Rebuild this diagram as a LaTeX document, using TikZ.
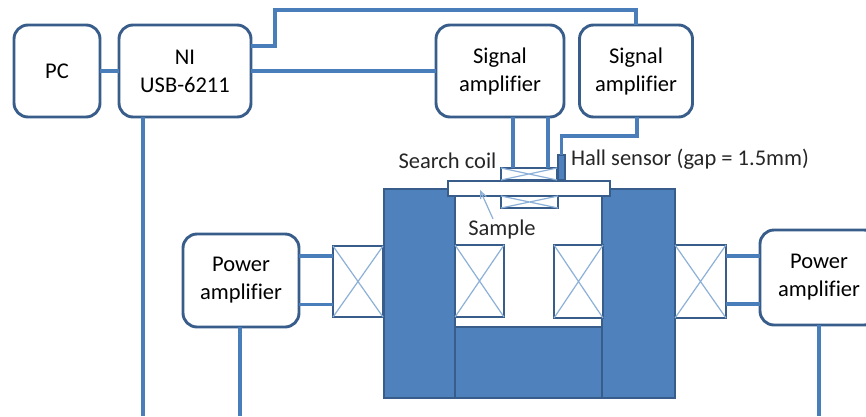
\documentclass[tikz,border=0pt]{standalone}
\usepackage{fontspec}
\setmainfont[Ligatures=CommonOff]{Carlito}
\usetikzlibrary{arrows.meta}
\definecolor{edgeblue}{HTML}{385D8A}
\definecolor{wireblue}{HTML}{4A7EBB}
\definecolor{coreblue}{HTML}{4F81BD}
\definecolor{crossblue}{HTML}{8DB0D9}
\tikzset{
    unitbox/.style = {draw=edgeblue, line width=2.9pt, rounded corners=14pt, fill=white, align=center, outer sep=0pt, inner sep=0pt, font=\fontsize{22.5}{28}\selectfont},
    corebox/.style = {draw=edgeblue, line width=2pt, fill=coreblue, outer sep=0pt, inner sep=0pt},
    coilbox/.style = {draw=edgeblue, line width=2.7pt, fill=white, outer sep=0pt, inner sep=0pt},
    wire/.style = {draw=wireblue, line width=3.5pt},
    crossline/.style = {draw=crossblue, line width=1.2pt},
    caption/.style = {inner sep=0pt, outer sep=0pt, text=black!85, font=\fontsize{22.5}{26}\selectfont}
}
\begin{document}
\begin{tikzpicture}[x=1pt, y=-1pt]
    \useasboundingbox (0,0) rectangle (866,416);
    \clip (0,0) rectangle (866,416);

    % wires
    \coordinate (topL) at (275,10);
    \coordinate (tapA) at (513,0);
    \coordinate (tapB) at (548,0);
    \coordinate (niEnd) at (143,416);
    \coordinate (powerLEnd) at (240,416);
    \coordinate (powerREnd) at (819,416);
    \coordinate (hallBend) at (637,136);

    % control boxes
    \node (pc) at (57,71) [unitbox, minimum width=86pt, minimum height=92pt] {PC};
    \node (ni) at (185,71) [unitbox, minimum width=132pt, minimum height=92pt] {NI\\USB-6211};
    \node (ampA) at (500,71) [unitbox, minimum width=128pt, minimum height=92pt] {Signal\\amplifier};
    \node (ampB) at (636,71) [unitbox, minimum width=113pt, minimum height=92pt] {Signal\\amplifier};
    \node (powerL) at (241,280.5) [unitbox, minimum width=116pt, minimum height=93pt] {Power\\amplifier};
    \node (powerR) at (819,277.5) [unitbox, minimum width=118pt, minimum height=95pt] {Power\\amplifier};

    % magnet core
    \node (yoke) at (528.5,362.5) [corebox, minimum width=147pt, minimum height=71pt] {};
    \node (poleL) at (419.5,293.5) [corebox, minimum width=71pt, minimum height=209pt] {};
    \node (poleR) at (638.5,293.5) [corebox, minimum width=73pt, minimum height=209pt] {};

    % drive coils
    \node (coilLo) at (358,281.5) [coilbox, minimum width=50pt, minimum height=71pt] {};
    \node (coilLi) at (479.5,281) [coilbox, minimum width=49pt, minimum height=72pt] {};
    \node (coilRi) at (578.5,281.5) [coilbox, minimum width=49pt, minimum height=73pt] {};
    \node (coilRo) at (700.5,281.5) [coilbox, minimum width=51pt, minimum height=73pt] {};

    % sample and sensors
    \node (searchT) at (529,174) [coilbox, minimum width=56pt, minimum height=12pt] {};
    \node (searchB) at (529.5,202) [coilbox, minimum width=57pt, minimum height=12pt] {};
    \node (sample) at (529,188.5) [coilbox, minimum width=162pt, minimum height=15pt] {};
    \node (hall) at (561.5,167.5) [corebox, minimum width=7pt, minimum height=25pt] {};

    \foreach \c in {coilLo,coilLi,coilRi,coilRo,searchT,searchB}
        \draw [crossline] (\c.north west) -- (\c.south east)
                          (\c.north east) -- (\c.south west);

    \path [wire] (pc) edge (ni)
                 (ni.east) edge (ampA.west)
                 (ni.south -| niEnd) edge (niEnd)
                 (powerL.south -| powerLEnd) edge (powerLEnd)
                 (powerR.south) edge (powerREnd)
                 (tapA |- ampA.south) edge (tapA |- searchT.north)
                 (tapB |- ampA.south) edge (tapB |- searchT.north);
    \draw [wire] ([yshift=25pt]ni.east) -| (topL) -| (ampB.north);
    \draw [wire] (hallBend |- ampB.south) -- (hallBend) -| (hall.north);
    \foreach \s in {24.5,-24}
        \draw [wire] ([yshift=\s pt]powerL.east) -- ([yshift=\s pt]powerL.east -| coilLo.west);
    \foreach \s in {21.5,-26.5}
        \draw [wire] ([yshift=\s pt]powerR.west) -- ([yshift=\s pt]powerR.west -| coilRo.east);

    % labels
    \node (searchLabel) at (447.5,160.5) [caption] {Search coil};
    \node (hallLabel) at (690,159.5) [caption] {Hall sensor (gap = 1.5mm)};
    \node (sampleLabel) at (502,229.5) [caption] {Sample};
    \draw [crossline, -{Straight Barb[length=7pt, width=6pt]}] (sampleLabel.north) ++(-9,-1) -- (480,190);
\end{tikzpicture}
\end{document}
